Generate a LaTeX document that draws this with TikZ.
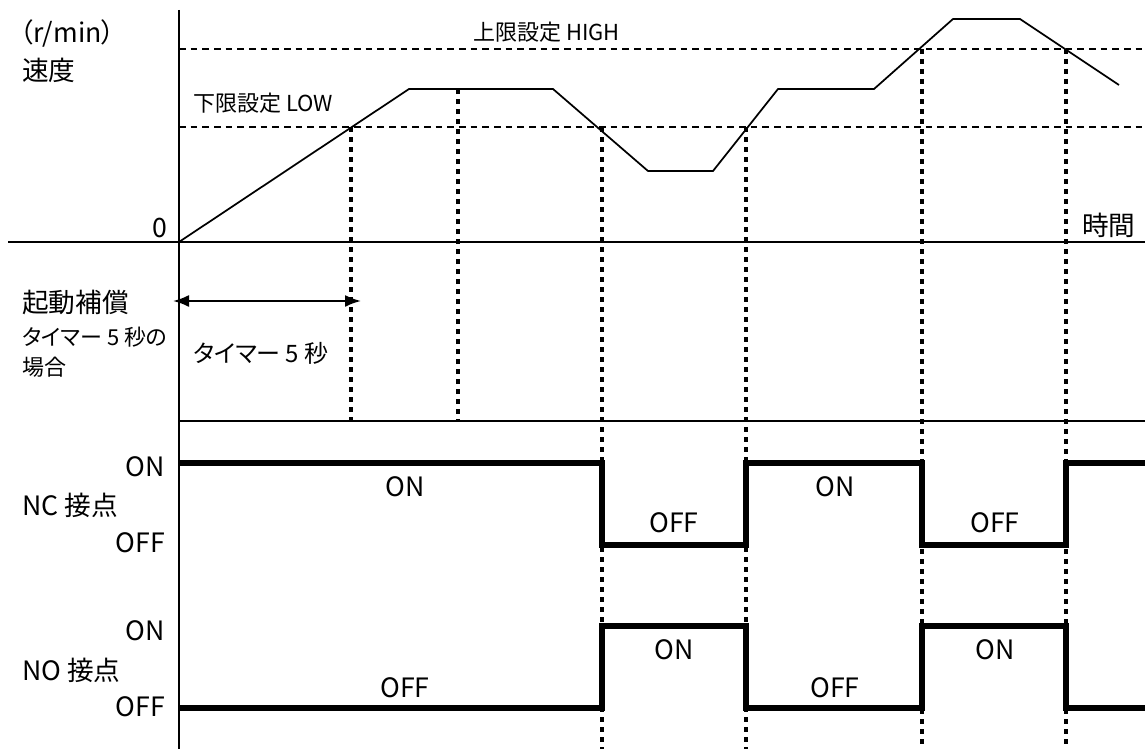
\documentclass[tikz,border=0pt]{standalone}
\usepackage{fontspec}
\setmainfont[RawFeature=+palt]{Noto Sans CJK JP}
\usepackage{tikz}
\usetikzlibrary{arrows.meta, positioning}
\newcommand{\bigtxt}{\fontsize{20}{24}\selectfont}
\newcommand{\midtxt}{\fontsize{18}{22}\selectfont}
\newcommand{\smalltxt}{\fontsize{16.5}{22.5}\selectfont}
\tikzstyle{axis}    = [line width=1.5pt]
\tikzstyle{level}   = [dash pattern=on 5pt off 3.75pt, line width=1.2pt]
\tikzstyle{guide}   = [dash pattern=on 3.6pt off 3.9pt, line width=2.4pt]
\tikzstyle{profile} = [line width=1.3pt]
\tikzstyle{signal}  = [line width=3.8pt]
\tikzstyle{span}    = [{Latex[length=12pt,width=9pt]}-{Latex[length=12pt,width=9pt]}, line width=1.5pt]
\tikzstyle{lbl}     = [inner sep=0pt, font=\bigtxt]
\tikzstyle{note}    = [inner sep=0pt, font=\smalltxt]

\begin{document}
\begin{tikzpicture}[x=0.75pt, y=-0.75pt]
  \useasboundingbox (0,0) rectangle (1145,749);

  % axes and band borders
  \draw[axis] (179,10) -- (179,749);
  \draw[axis] (8,242) -- (1145,242);
  \draw[axis] (179,421) -- (1145,421);

  % limit levels
  \draw[level] (179,49) -- (1145,49);
  \draw[level] (179,127) -- (1145,127);
  \node[note, anchor=west] (high) at (473,32) {上限設定 HIGH};
  \node[note, anchor=west] (low) at (193,103) {下限設定 LOW};

  % speed profile
  \coordinate (s0) at (179,242);
  \coordinate (s1) at (409,89);
  \coordinate (s2) at (553,89);
  \coordinate (s3) at (648,171);
  \coordinate (s4) at (713,171);
  \coordinate (s5) at (778,89);
  \coordinate (s6) at (874,89);
  \coordinate (s7) at (953,19);
  \coordinate (s8) at (1020,19);
  \coordinate (s9) at (1119,85);
  \draw[profile] (s0) -- (s1) -- (s2) -- (s3) -- (s4) -- (s5) -- (s6) -- (s7) -- (s8) -- (s9);

  % switching instants
  \foreach \x/\ya/\yb in {351/127/421, 458/89/421, 602/127/749,
                          746/127/749, 922/49/749, 1066/49/749}
    \draw[guide] (\x,\ya) -- (\x,\yb);

  % axis labels
  \node[lbl, anchor=west] (unit) at (20,33) {（r/min）};
  \node[lbl, anchor=west] (speed) at (22,70) {速度};
  \node[lbl] (zero) at (160,228) {0};
  \node[lbl, anchor=west] (time) at (1082,225) {時間};

  % start compensation
  \node[lbl, anchor=west] (comp) at (22,302) {起動補償};
  \node[note, anchor=west, align=left] (case) at (22,352) {タイマー 5 秒の\\場合};
  \coordinate (tstart) at (173,301);
  \coordinate (tend) at (361,301);
  \draw[span] (tstart) -- (tend);
  \node[inner sep=0pt, font=\midtxt, anchor=west] (timer) at (193,353) {タイマー 5 秒};

  % NC contact
  \node[lbl, anchor=east] (ncon) at (165,467) {ON};
  \node[lbl, anchor=west] (nc) at (22,505) {NC 接点};
  \node[lbl, anchor=east] (ncoff) at (165,543) {OFF};
  \draw[signal] (179,463) -- (602,463) -- (602,545) -- (746,545) -- (746,463)
    -- (922,463) -- (922,545) -- (1066,545) -- (1066,463) -- (1145,463);
  \node[lbl] (nc1) at (405,487) {ON};
  \node[lbl] (nc2) at (674,523) {OFF};
  \node[lbl] (nc3) at (835,487) {ON};
  \node[lbl] (nc4) at (995,523) {OFF};

  % NO contact
  \node[lbl, anchor=east] (noon) at (165,631) {ON};
  \node[lbl, anchor=west] (no) at (22,670) {NO 接点};
  \node[lbl, anchor=east] (nooff) at (165,707) {OFF};
  \draw[signal] (179,708) -- (602,708) -- (602,626) -- (746,626) -- (746,708)
    -- (922,708) -- (922,626) -- (1066,626) -- (1066,708) -- (1145,708);
  \node[lbl] (no1) at (405,688) {OFF};
  \node[lbl] (no2) at (674,650) {ON};
  \node[lbl] (no3) at (835,688) {OFF};
  \node[lbl] (no4) at (995,650) {ON};
\end{tikzpicture}
\end{document}
